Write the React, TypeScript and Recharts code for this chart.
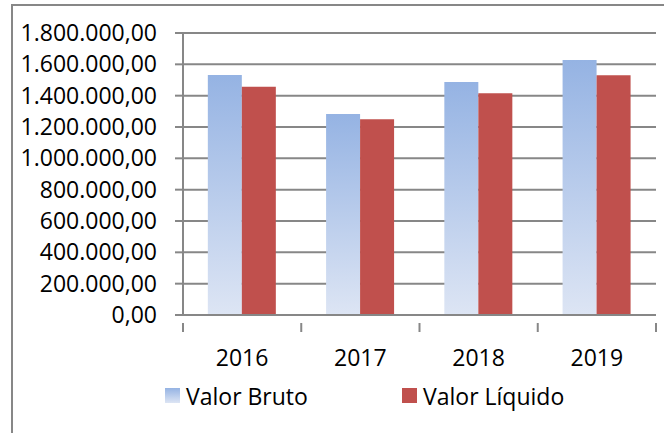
import { BarChart, Bar, XAxis, YAxis, CartesianGrid } from 'recharts'

const years = ['2016', '2017', '2018', '2019']
const valorBruto = [1532000, 1283000, 1487000, 1628000]
const valorLiquido = [1457000, 1249000, 1415000, 1530000]
const yTicks = [0, 200000, 400000, 600000, 800000, 1000000, 1200000, 1400000, 1600000, 1800000]

const chartData = years.map((year, i) => ({
  year,
  bruto: valorBruto[i],
  liquido: valorLiquido[i],
}))

const WIDTH = 664
const HEIGHT = 433
const MARGIN = { top: 33, right: 8, left: 8, bottom: 0 }
const Y_AXIS_WIDTH = 175
const PLOT_WIDTH = WIDTH - MARGIN.left - MARGIN.right - Y_AXIS_WIDTH
const GRAY = '#878787'
const FONT = '"Open Sans", sans-serif'
const FONT_SIZE = 23
const RED = '#C0504D'

// 1800000 -> "1.800.000,00"
function formatBR(v: number): string {
  const intPart = String(Math.round(v)).replace(/\B(?=(\d{3})+(?!\d))/g, '.')
  return `${intPart},00`
}

function CategoryTick(props: any) {
  const { x, y, payload, index } = props
  const step = PLOT_WIDTH / years.length
  return (
    <g>
      <line x1={x - step / 2} y1={y} x2={x - step / 2} y2={y + 9} stroke={GRAY} strokeWidth={2} />
      {index === years.length - 1 && (
        <line x1={x + step / 2} y1={y} x2={x + step / 2} y2={y + 9} stroke={GRAY} strokeWidth={2} />
      )}
      <text
        x={x}
        y={y + 34}
        textAnchor="middle"
        dominantBaseline="central"
        fontSize={FONT_SIZE}
        fontFamily={FONT}
        fill="#000"
      >
        {payload.value}
      </text>
    </g>
  )
}

function ChartLegend() {
  const items = [
    { label: 'Valor Bruto', x: 165, fill: 'url(#legendBlue)' },
    { label: 'Valor Líquido', x: 402, fill: RED },
  ]
  return (
    <svg width={WIDTH} height={40} style={{ position: 'absolute', left: 0, top: 376 }}>
      <defs>
        <linearGradient id="legendBlue" x1="0" y1="0" x2="0" y2="1">
          <stop offset="0%" stopColor="#95B3E3" />
          <stop offset="100%" stopColor="#DDE5F4" />
        </linearGradient>
      </defs>
      {items.map((it) => (
        <g key={it.label}>
          <rect x={it.x} y={12} width={15} height={15} fill={it.fill} />
          <text
            x={it.x + 21}
            y={20}
            dominantBaseline="central"
            fontSize={FONT_SIZE}
            fontFamily={FONT}
            fill="#000"
          >
            {it.label}
          </text>
        </g>
      ))}
    </svg>
  )
}

export default function App() {
  return (
    <div style={{ position: 'absolute', left: 0, top: 0, width: WIDTH, height: HEIGHT, background: '#fff' }}>
      <div
        style={{
          position: 'absolute',
          left: 11,
          top: 4,
          width: WIDTH - 11,
          height: HEIGHT - 4,
          borderLeft: `2px solid ${GRAY}`,
          borderTop: `2px solid ${GRAY}`,
          boxSizing: 'border-box',
        }}
      />
      <div style={{ position: 'absolute', left: 0, top: 0 }}>
        <BarChart
          width={WIDTH}
          height={HEIGHT}
          data={chartData}
          margin={MARGIN}
          barCategoryGap="21%"
          barGap={0}
        >
          <defs>
            <linearGradient id="blueGrad" x1="0" y1="0" x2="0" y2="1">
              <stop offset="0%" stopColor="#95B3E3" />
              <stop offset="100%" stopColor="#DDE5F4" />
            </linearGradient>
          </defs>
          <CartesianGrid vertical={false} stroke={GRAY} strokeWidth={2} />
          <XAxis
            dataKey="year"
            height={118}
            axisLine={{ stroke: GRAY, strokeWidth: 2 }}
            tickLine={false}
            tick={<CategoryTick />}
            interval={0}
          />
          <YAxis
            width={Y_AXIS_WIDTH}
            domain={[0, 1800000]}
            ticks={yTicks}
            interval={0}
            tickFormatter={formatBR}
            axisLine={{ stroke: GRAY, strokeWidth: 2 }}
            tickLine={{ stroke: GRAY, strokeWidth: 2 }}
            tickSize={8}
            tickMargin={18}
            tick={{ fontSize: FONT_SIZE, fontFamily: FONT, fill: '#000' }}
          />
          <Bar dataKey="bruto" fill="url(#blueGrad)" isAnimationActive={false} />
          <Bar dataKey="liquido" fill={RED} isAnimationActive={false} />
        </BarChart>
      </div>
      <ChartLegend />
    </div>
  )
}
